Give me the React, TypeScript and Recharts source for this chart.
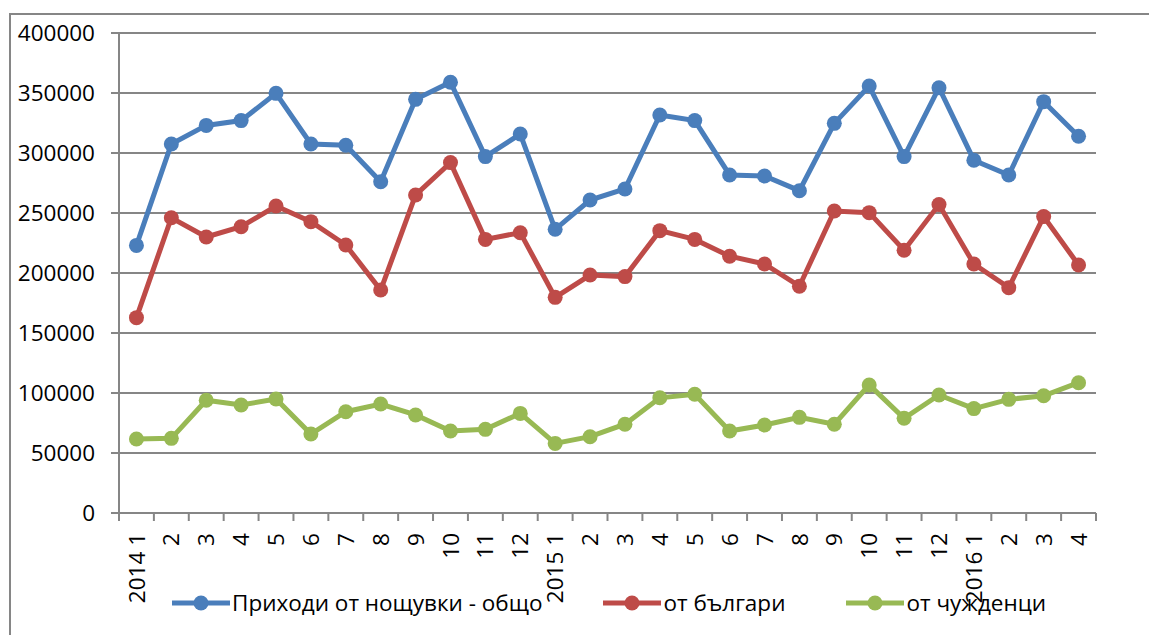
import { LineChart, Line, XAxis, YAxis, CartesianGrid } from 'recharts';

// Monthly values (2014 1 .. 2016 4)
const months = [
  '2014 1', '2', '3', '4', '5', '6', '7', '8', '9', '10', '11', '12',
  '2015 1', '2', '3', '4', '5', '6', '7', '8', '9', '10', '11', '12',
  '2016 1', '2', '3', '4',
];

const total = [
  223000, 307500, 323000, 327000, 349700, 307500, 306400, 276000, 344700, 359000, 297000, 315800,
  236400, 260800, 270000, 331700, 327000, 281700, 280800, 268600, 324700, 355800, 297000, 354400,
  294000, 281700, 342800, 314000,
];

const bulgarians = [
  162800, 246000, 230000, 238600, 255800, 242800, 223300, 185800, 265000, 292000, 228000, 233600,
  179700, 198300, 197000, 235300, 228000, 214000, 207500, 189000, 251700, 250300, 219000, 257000,
  207500, 187800, 247000, 206700,
];

const foreigners = [
  61700, 62200, 94000, 90000, 95000, 65800, 84400, 90800, 81700, 68300, 69700, 83000,
  58000, 63600, 74000, 96000, 98900, 68300, 73300, 79700, 74000, 106700, 78900, 98300,
  87000, 94700, 97700, 108600,
];

const yTicks = [0, 50000, 100000, 150000, 200000, 250000, 300000, 350000, 400000];

const series = [
  { key: 'total', name: 'Приходи от нощувки - общо', color: '#4a7ebb', values: total },
  { key: 'bg', name: 'от българи', color: '#be4b48', values: bulgarians },
  { key: 'foreign', name: 'от чужденци', color: '#98b954', values: foreigners },
];

const data = months.map((m, i) => ({
  month: m,
  total: total[i],
  bg: bulgarians[i],
  foreign: foreigners[i],
}));

const W = 1149;
const H = 635;
const PLOT_LEFT = 119;
const PLOT_RIGHT = 1096;
const AXIS = '#868686';
const FONT = '"Open Sans", "Noto Sans", sans-serif';
const band = (PLOT_RIGHT - PLOT_LEFT) / months.length;

function MonthTick(props: any) {
  const { x, y, payload, index } = props;
  const last = index === months.length - 1;
  return (
    <g>
      <line x1={x - band / 2} x2={x - band / 2} y1={y - 8} y2={y} stroke={AXIS} strokeWidth={2} />
      {last && <line x1={x + band / 2} x2={x + band / 2} y1={y - 8} y2={y} stroke={AXIS} strokeWidth={2} />}
      <g transform={`translate(${x},${y + 12})`}>
        <text transform="rotate(-90)" textAnchor="end" dy="0.36em" fill="#000" fontSize={22.5} fontFamily={FONT}>
          {payload.value}
        </text>
      </g>
    </g>
  );
}

function LegendRow() {
  return (
    <div
      style={{
        position: 'absolute', left: 172, top: 588, display: 'flex', gap: 61,
        fontFamily: FONT, fontSize: 22.5, lineHeight: '30px', color: '#000',
      }}
    >
      {series.map((s) => (
        <div key={s.key} style={{ display: 'flex', alignItems: 'center' }}>
          <svg width={58} height={30}>
            <line x1={0} x2={58} y1={15} y2={15} stroke={s.color} strokeWidth={5} />
            <circle cx={29} cy={15} r={7.5} fill={s.color} />
          </svg>
          <span style={{ marginLeft: 2, whiteSpace: 'nowrap' }}>{s.name}</span>
        </div>
      ))}
    </div>
  );
}

export default function App() {
  return (
    <div style={{ position: 'absolute', left: 0, top: 0, width: W, height: H, overflow: 'hidden', background: '#fff' }}>
      <div
        style={{
          position: 'absolute', left: 9, top: 13, width: W, height: H,
          borderTop: `2px solid ${AXIS}`, borderLeft: `2px solid ${AXIS}`,
        }}
      />
      <div style={{ position: 'absolute', left: 0, top: 0 }}>
        <LineChart width={W} height={H} data={data} margin={{ top: 33, right: W - PLOT_RIGHT, left: 0, bottom: 0 }}>
          <CartesianGrid vertical={false} stroke={AXIS} strokeWidth={2} />
          <XAxis
            dataKey="month"
            interval={0}
            height={H - 513}
            padding={{ left: band / 2, right: band / 2 }}
            stroke={AXIS}
            strokeWidth={2}
            tickLine={false}
            tickSize={8}
            tickMargin={0}
            tick={<MonthTick />}
          />
          <YAxis
            domain={[0, 400000]}
            ticks={yTicks}
            width={PLOT_LEFT}
            stroke={AXIS}
            strokeWidth={2}
            tickSize={8}
            tickMargin={16}
            tick={{ fill: '#000', fontSize: 22.5, fontFamily: FONT }}
          />
          {series.map((s) => (
            <Line
              key={s.key}
              dataKey={s.key}
              name={s.name}
              type="linear"
              stroke={s.color}
              strokeWidth={5}
              dot={{ r: 7.5, fill: s.color, stroke: s.color, strokeWidth: 0 }}
              activeDot={false}
              isAnimationActive={false}
            />
          ))}
        </LineChart>
      </div>
      <LegendRow />
    </div>
  );
}
